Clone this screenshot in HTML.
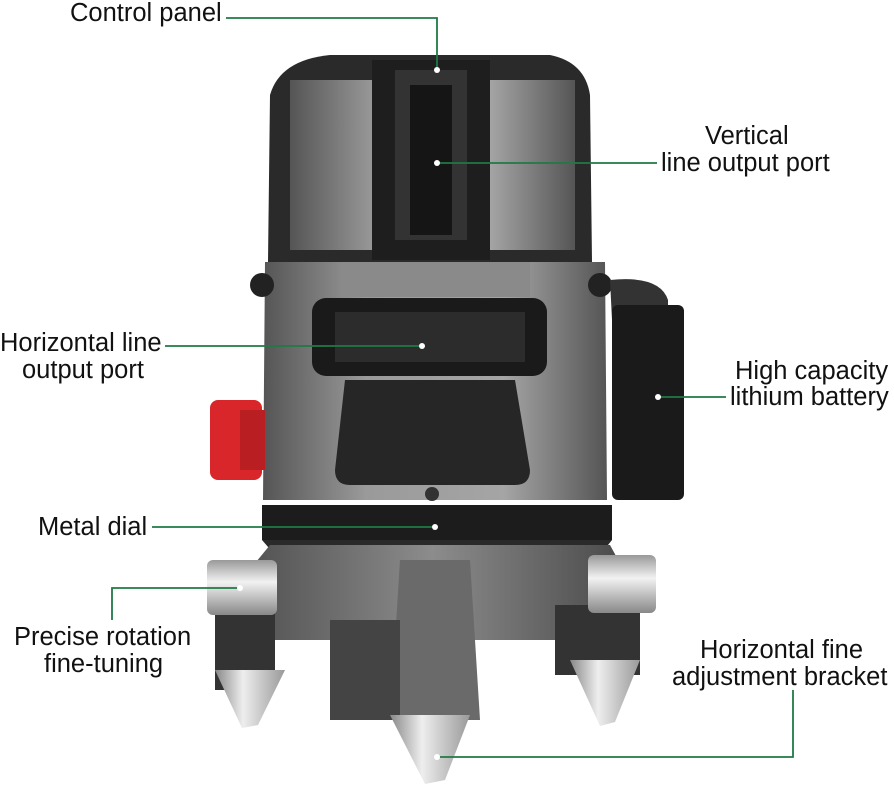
<!DOCTYPE html>
<html><head><meta charset="utf-8"><style>
html,body{margin:0;padding:0;background:#fff;}
svg{display:block}
text{font-family:"Liberation Sans",sans-serif;font-size:25.5px;fill:#111;}
</style></head><body>
<svg width="894" height="789" viewBox="0 0 894 789" xmlns="http://www.w3.org/2000/svg">
<defs>
<linearGradient id="g1" x1="0" x2="1"><stop offset="0" stop-color="#555"/><stop offset="0.3" stop-color="#9a9a9a"/><stop offset="0.7" stop-color="#a5a5a5"/><stop offset="1" stop-color="#555"/></linearGradient>
<linearGradient id="g2" x1="0" x2="1"><stop offset="0" stop-color="#4a4a4a"/><stop offset="0.5" stop-color="#8c8c8c"/><stop offset="1" stop-color="#444"/></linearGradient>
<linearGradient id="cone" x1="0" x2="1"><stop offset="0" stop-color="#888"/><stop offset="0.4" stop-color="#eee"/><stop offset="1" stop-color="#999"/></linearGradient>
<linearGradient id="knob" x1="0" y1="0" x2="0" y2="1"><stop offset="0" stop-color="#999"/><stop offset="0.4" stop-color="#f2f2f2"/><stop offset="1" stop-color="#888"/></linearGradient>
</defs>
<path d="M270 95 Q280 60 330 55 L550 55 Q585 62 590 95 L592 262 L268 262 Z" fill="#2a2a2a"/>
<path d="M290 80 L575 80 L575 250 L290 250 Z" fill="url(#g1)"/>
<rect x="372" y="60" width="118" height="200" fill="#1e1e1e"/>
<rect x="395" y="70" width="72" height="170" fill="#333"/>
<rect x="410" y="85" width="42" height="150" fill="#151515"/>
<path d="M265 262 L605 262 L607 500 L263 500 Z" fill="url(#g1)"/>
<rect x="340" y="262" width="190" height="35" fill="#8a8a8a"/>
<rect x="312" y="298" width="235" height="78" rx="14" fill="#1a1a1a"/>
<rect x="335" y="312" width="190" height="50" fill="#2c2c2c"/>
<path d="M345 380 L515 380 L530 470 Q530 485 515 485 L350 485 Q335 485 335 470 Z" fill="#262626"/>
<circle cx="432" cy="494" r="7" fill="#333"/>
<circle cx="262" cy="285" r="12" fill="#222"/><circle cx="600" cy="285" r="12" fill="#222"/>
<path d="M610 280 Q660 275 668 300 L668 320 L612 320 Z" fill="#333"/>
<rect x="612" y="305" width="72" height="195" rx="6" fill="#1a1a1a"/>
<rect x="210" y="400" width="52" height="80" rx="8" fill="#d8262a"/>
<rect x="240" y="410" width="25" height="60" fill="#b81e22"/>
<rect x="262" y="505" width="350" height="35" fill="#1c1c1c"/>
<path d="M262 540 L612 540 L600 555 L275 555 Z" fill="#2a2a2a"/>
<path d="M270 545 L610 545 L640 600 L620 640 L250 640 L225 600 Z" fill="url(#g2)"/>
<path d="M400 560 L470 560 L480 720 L390 720 Z" fill="#6a6a6a"/>
<rect x="215" y="610" width="60" height="80" fill="#333"/>
<rect x="555" y="605" width="85" height="70" fill="#333"/>
<rect x="330" y="620" width="70" height="100" fill="#444"/>
<rect x="207" y="560" width="70" height="55" rx="6" fill="url(#knob)"/>
<rect x="588" y="555" width="68" height="58" rx="6" fill="url(#knob)"/>
<path d="M215 670 L285 670 L258 725 L242 728 Z" fill="url(#cone)"/>
<path d="M570 660 L640 660 L615 722 L600 726 Z" fill="url(#cone)"/>
<path d="M390 715 L470 715 L445 780 L425 784 Z" fill="url(#cone)"/>
<g stroke="#1f7a45" stroke-width="1.8" fill="none">
<polyline points="226,18 437,18 437,70"/>
<line x1="437" y1="163" x2="657" y2="163"/>
<line x1="165" y1="346" x2="422" y2="346"/>
<line x1="658" y1="397" x2="726" y2="397"/>
<line x1="152" y1="527" x2="435" y2="527"/>
<polyline points="112,620 112,588 240,588"/>
<polyline points="793,690 793,757 437,757"/>
</g>
<g fill="#fff"><circle cx="437" cy="70" r="3"/><circle cx="437" cy="163" r="3"/><circle cx="422" cy="346" r="3"/><circle cx="658" cy="397" r="3"/><circle cx="435" cy="527" r="3"/><circle cx="240" cy="588" r="3"/><circle cx="437" cy="757" r="3"/></g>
<text x="70" y="21">Control panel</text>
<text x="705" y="144">Vertical</text>
<text x="661" y="171">line output port</text>
<text x="0" y="351">Horizontal line</text>
<text x="22" y="378">output port</text>
<text x="735" y="379">High capacity</text>
<text x="730" y="405">lithium battery</text>
<text x="38" y="535">Metal dial</text>
<text x="14" y="645">Precise rotation</text>
<text x="44" y="672">fine-tuning</text>
<text x="700" y="658">Horizontal fine</text>
<text x="672" y="685">adjustment bracket</text>
</svg>
</body></html>
